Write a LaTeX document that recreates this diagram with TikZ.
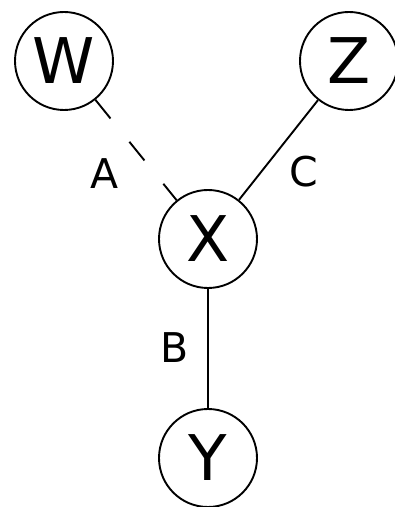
\documentclass[tikz,border=0pt]{standalone}
\usepackage{fontspec}
\setmainfont{DejaVu Sans}
\usetikzlibrary{positioning}

\begin{document}
\begin{tikzpicture}[x=1pt, y=1pt,
                    varnode/.style={circle, draw=black, line width=1.9pt, minimum size=98pt, inner sep=0pt, font=\fontsize{63}{63}\selectfont},
                    edgelabel/.style={inner sep=0pt, font=\fontsize{41}{41}\selectfont},
                    link/.style={line width=1.9pt}]
    \useasboundingbox (0,0) rectangle (395,507);
    % nodes
    \node[varnode]      (W)     at (64,446)      {W};
    \node[varnode]      (Z)     at (349,446)     {Z};
    \node[varnode]      (X)     at (208,268)     {X};
    \node[varnode]      (Y)     at (208,49)      {Y};
    % labels
    \node[edgelabel]    (A)     at (105,333)     {A};
    \node[edgelabel]    (C)     at (304,335)     {C};
    \node[edgelabel]    (B)     at (175,159)     {B};
    % lines
    \draw[link, dash pattern=on 24pt off 30pt] (W) -- (X);
    \draw[link] (Z) -- (X);
    \draw[link] (X) -- (Y);
\end{tikzpicture}
\end{document}
